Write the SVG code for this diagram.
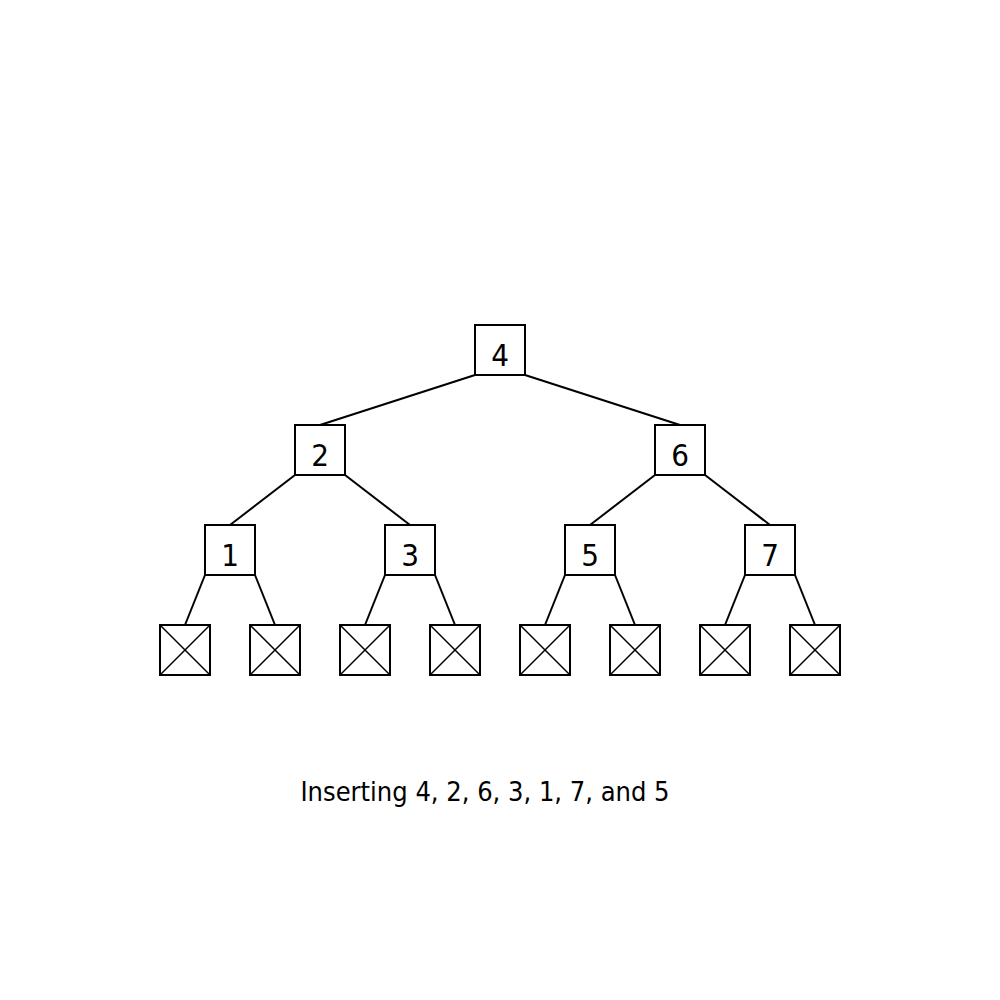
<svg xmlns="http://www.w3.org/2000/svg" width="1000" height="1000" viewBox="0 0 1000 1000">
<style>
.n rect{fill:#fff;stroke:#000;stroke-width:2}
.n text{font-family:"DejaVu Sans Condensed","DejaVu Sans",sans-serif;font-size:31px;text-anchor:middle;fill:#000}
.leaf rect{fill:#fff;stroke:#000;stroke-width:2}
.leaf path{stroke:#000;stroke-width:1.5;fill:none}
#edges line{stroke:#000;stroke-width:2}
.cap{font-family:"DejaVu Sans Condensed","DejaVu Sans",sans-serif;font-size:27px;fill:#000}
</style>
<g id="edges">
<line x1="475" y1="375" x2="320" y2="425"/>
<line x1="525" y1="375" x2="680" y2="425"/>
<line x1="295" y1="475" x2="230" y2="525"/>
<line x1="345" y1="475" x2="410" y2="525"/>
<line x1="655" y1="475" x2="590" y2="525"/>
<line x1="705" y1="475" x2="770" y2="525"/>
<line x1="205" y1="575" x2="185" y2="625"/>
<line x1="255" y1="575" x2="275" y2="625"/>
<line x1="385" y1="575" x2="365" y2="625"/>
<line x1="435" y1="575" x2="455" y2="625"/>
<line x1="565" y1="575" x2="545" y2="625"/>
<line x1="615" y1="575" x2="635" y2="625"/>
<line x1="745" y1="575" x2="725" y2="625"/>
<line x1="795" y1="575" x2="815" y2="625"/>
</g>
<g id="n4" class="n"><rect x="475" y="325" width="50" height="50"/><text x="500" y="366">4</text></g>
<g id="n2" class="n"><rect x="295" y="425" width="50" height="50"/><text x="320" y="466">2</text></g>
<g id="n6" class="n"><rect x="655" y="425" width="50" height="50"/><text x="680" y="466">6</text></g>
<g id="n1" class="n"><rect x="205" y="525" width="50" height="50"/><text x="230" y="566">1</text></g>
<g id="n3" class="n"><rect x="385" y="525" width="50" height="50"/><text x="410" y="566">3</text></g>
<g id="n5" class="n"><rect x="565" y="525" width="50" height="50"/><text x="590" y="566">5</text></g>
<g id="n7" class="n"><rect x="745" y="525" width="50" height="50"/><text x="770" y="566">7</text></g>
<g id="leaf1" class="leaf"><rect x="160" y="625" width="50" height="50"/><path d="M160 625L210 675M210 625L160 675"/></g>
<g id="leaf2" class="leaf"><rect x="250" y="625" width="50" height="50"/><path d="M250 625L300 675M300 625L250 675"/></g>
<g id="leaf3" class="leaf"><rect x="340" y="625" width="50" height="50"/><path d="M340 625L390 675M390 625L340 675"/></g>
<g id="leaf4" class="leaf"><rect x="430" y="625" width="50" height="50"/><path d="M430 625L480 675M480 625L430 675"/></g>
<g id="leaf5" class="leaf"><rect x="520" y="625" width="50" height="50"/><path d="M520 625L570 675M570 625L520 675"/></g>
<g id="leaf6" class="leaf"><rect x="610" y="625" width="50" height="50"/><path d="M610 625L660 675M660 625L610 675"/></g>
<g id="leaf7" class="leaf"><rect x="700" y="625" width="50" height="50"/><path d="M700 625L750 675M750 625L700 675"/></g>
<g id="leaf8" class="leaf"><rect x="790" y="625" width="50" height="50"/><path d="M790 625L840 675M840 625L790 675"/></g>
<text class="cap" x="485" y="801" text-anchor="middle">Inserting 4, 2, 6, 3, 1, 7, and 5</text>
</svg>
